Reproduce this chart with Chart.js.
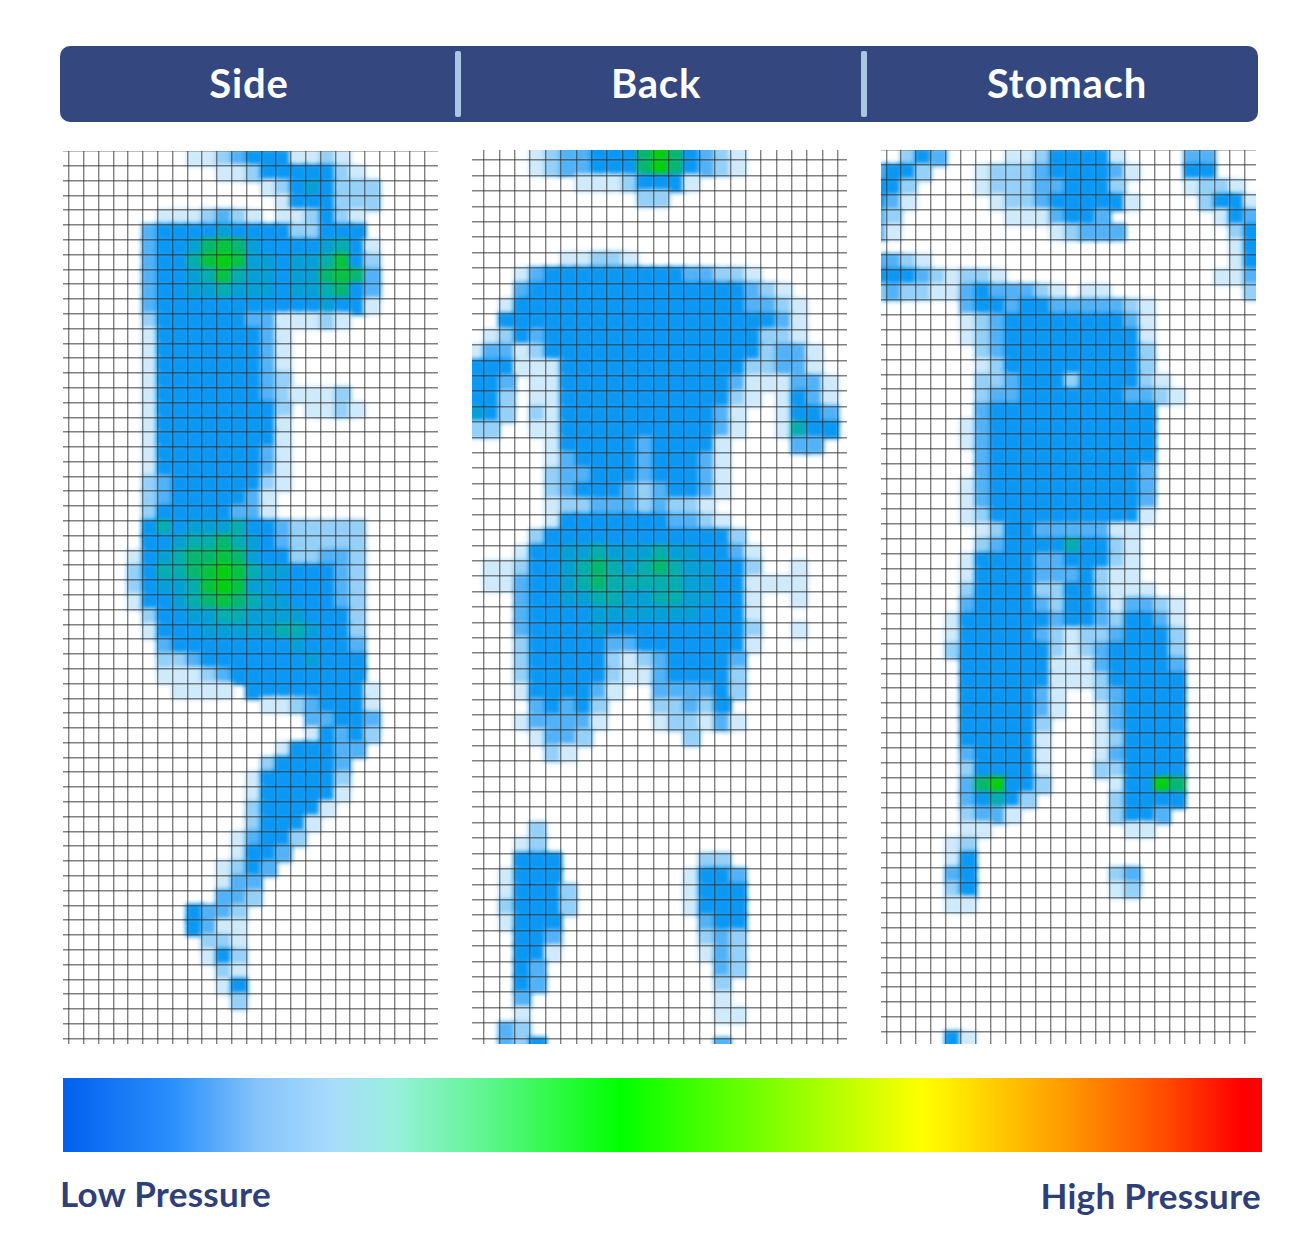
<!DOCTYPE html>
<html>
<head>
<meta charset="utf-8">
<title>Pressure map</title>
<script src="https://cdn.jsdelivr.net/npm/chart.js@4"></script>
<style>
  html, body { margin: 0; background: #fff; }
  body { position: relative; width: 1313px; height: 1240px; overflow: hidden; font-family: Lato, sans-serif; }
  canvas { position: absolute; }
  #bar { position: absolute; left: 60px; top: 46px; width: 1198px; height: 76px; background: #34477f; border-radius: 10px; }
  .sep { position: absolute; top: 51px; width: 6px; height: 66px; background: #a9c6e4; border-radius: 2px; }
  .head { position: absolute; top: 59px; width: 300px; text-align: center; color: #fff; font-size: 40px; font-weight: 700; line-height: 48px; letter-spacing: 0.8px; }
  .end { position: absolute; color: #2f3f77; font-size: 35px; font-weight: 700; line-height: 44px; letter-spacing: 0.3px; white-space: nowrap; }
</style>
</head>
<body>
<div id="bar"></div>
<div class="sep" style="left:455px"></div>
<div class="sep" style="left:861px"></div>
<div class="head" id="h0" style="left:99px"></div>
<div class="head" id="h1" style="left:506px"></div>
<div class="head" id="h2" style="left:917px"></div>
<div class="end" id="lowLabel" style="left:60px;top:1171px"></div>
<div class="end" id="highLabel" style="right:52px;top:1173px"></div>
<canvas id="side" width="375" height="893" style="left:63px;top:151px"></canvas>
<canvas id="back" width="375" height="894" style="left:472px;top:150px"></canvas>
<canvas id="stomach" width="375" height="894" style="left:881px;top:150px"></canvas>
<canvas id="ramp" width="1199" height="74" style="left:63px;top:1078px"></canvas>
<script>
const panelNames = ["Side", "Back", "Stomach"];
const lowText = "Low Pressure";
const highText = "High Pressure";

// pressure level per cell, one string per sensor row, "." is no reading.
// spaces only group the columns in fives
const sideRows = [
  "..... ....1 12344 41121",
  "..... ..... .1124 44442 1",
  "..... ..... ....1 24542 22",
  "..... ..... ..... 14442 22",
  "..... ..111 2321. 11242 1",
  "..... .3444 45444 42244 4",
  "..... .3445 78754 44456 41",
  "..... .3446 89855 45568 42",
  "..... .3445 68655 45578 73",
  "..... .3445 56555 45567 43",
  "..... .3444 44444 44454 41",
  "..... .2444 44433 11121",
  "..... .1444 44443 1",
  "..... .1444 44443 1",
  "..... .1444 44443 1",
  "..... .1444 44443 2",
  "..... .1444 44443 21112",
  "..... .1444 44444 2.112 1",
  "..... .1444 44444 1",
  "..... .1444 44444 1",
  "..... .1444 44443 1",
  "..... .1444 44443 1",
  "..... .2344 44442 1",
  "..... .2344 44431",
  "..... .2444 44331",
  "..... .4645 55644 32222 2",
  "..... .4456 67654 32222 2",
  "..... 14567 78754 42233 2",
  "..... 24667 89865 54443 2",
  "..... 24556 89855 44443 2",
  "..... 14456 78765 54443 2",
  "..... .2445 56655 55444 2",
  "..... .1444 55555 66544 2",
  "..... ..344 44444 45444 3",
  "..... ..223 44444 44544 4",
  "..... ..111 23444 44444 4",
  "..... ...11 11.44 44444 41",
  "..... ..... ....1 12344 41",
  "..... ..... ..... ..334 43",
  "..... ..... ..... ..143 42",
  "..... ..... ..... 14443 3",
  "..... ..... ....2 44443",
  "..... ..... ...14 44442",
  "..... ..... ...14 44441",
  "..... ..... ...24 4441",
  "..... ..... ...24 441",
  "..... ..... ..134 42",
  "..... ..... ..144 3",
  "..... ..... .1243",
  "..... ..... .133",
  "..... ..... .332",
  "..... ....4 332",
  "..... ....4 311",
  "..... ..... 221",
  "..... ..... 142",
  "..... ..... .21",
  "..... ..... .14",
  "..... ..... ..2"
];

const backRows = [
  "....1 23344 47974 321",
  "....1 23344 47974 321",
  "..... ..111 24441",
  "..... ..... .22",
  "",
  "",
  "",
  "..... .1122 1",
  "...13 44444 44443 3221",
  "...34 44444 44444 44432 1",
  "..144 44444 44444 44433 21",
  "..444 44444 44444 44444 31",
  ".1243 44444 44444 44442 21",
  "13312 44444 44444 44442 331",
  "44411 14444 44444 44422 331",
  "443.1 14444 44444 44311 1331",
  "442.1 14444 44444 4421. 1431",
  "542.2 14444 44444 431.. 1443",
  "22..1 14444 44444 431.. 1644",
  "..... 14444 43444 41... .33",
  "..... 13444 43444 31",
  "..... 23344 43444 31",
  "..... 23444 32344 31",
  "..... 12233 32322 1",
  "..... 14444 44433 21",
  "....2 44444 44444 442",
  "...14 45565 55655 4431",
  ".1124 45676 56765 5442. .1",
  ".1134 45676 66665 54411 11",
  "...34 45566 55665 5441. .1",
  "...34 44455 55555 4441",
  "...34 44454 44444 4442. .1",
  "...24 44443 34444 4441",
  "...24 44442 12344 443",
  "...24 44442 11344 442",
  "...14 44431 ..333 342",
  "....3 4342. ..223 24",
  "...13 3331. ..122 131",
  "....1 332.. ....2",
  "..... 21",
  "",
  "",
  "",
  "",
  "....2",
  "...12",
  "...44 4.... ..... 22",
  "..144 4.... ....1 443",
  "..144 42... ....1 444",
  "..244 42... ....1 444",
  "..144 4.... ..... 344",
  "...44 3.... ..... 232",
  "...44 1.... ..... 132",
  "...43 ..... ..... .32",
  "...43 ..... ..... .2",
  "...3. ..... ..... .1",
  "...1. ..... ..... .11",
  "..32",
  "..324 ..... ..... .3"
];

const stomachRows = [
  "..243 ....1 12444 41... .33",
  "3442. ..122 23444 431.. .44",
  "442.. ..122 23344 42... .1221",
  "431.. ...12 23444 441.. ..244 1",
  "32... ....1 11344 3.... ...14 3",
  "31... ..... ..123 33... ....2 4",
  "..... ..... ..... ..... ....1 4",
  "3321. ..... ..... ..... ....1 4",
  "44432 1221. ..... ..... ...11 3",
  "23221 13433 321.1 1.... ..... 2",
  "..... .3443 44333 3321",
  "..... .1234 44444 4431",
  "..... .1234 44444 4441",
  "..... ..234 44444 4442",
  "..... ..124 44444 4442",
  "..... ..223 44424 44421",
  "..... ..233 44444 44332 1",
  "..... ..344 44444 4444",
  "..... .1344 44444 4444",
  "..... .1344 44444 4444",
  "..... ..344 44444 4444",
  "..... ..344 44444 4443",
  "..... .1344 44444 4443",
  "..... .1344 44444 4443",
  "..... .1244 44444 4441",
  "..... ..124 43333 311",
  "..... ..234 44464 421",
  "..... .1444 43344 421",
  "..... .1444 43334 211",
  "..... .2444 42244 2111",
  "..... .3444 43244 31332 1",
  "..... 14444 44344 32443 1",
  "..... 14444 43212 23444 2",
  "..... 24444 44212 34444 2",
  "..... .4444 44111 34444 3",
  "..... .4444 44111 24444 4",
  "..... .4444 431.. 23444 4",
  "..... .4444 431.. 13444 4",
  "..... .4444 42... 13444 4",
  "..... .4444 41... 12444 4",
  "..... .3444 41... 13444 4",
  "..... .2444 41... 22444 4",
  "..... .3794 42... .1449 7",
  "..... .3464 2.... .2444 4",
  "..... .2331 ..... .2443",
  "..... .11.. ..... ..11",
  "..... 12",
  "..... 14",
  "..... 34... ..... .23",
  "..... 24... ..... .12",
  "..... 11",
  "",
  "",
  "",
  "",
  "",
  "",
  "",
  "",
  "..... 41"
];

const levelColors = ["#ffffff", "#cfeafb", "#94d0f8", "#52b2f8", "#0b98f5", "#06a0d8", "#05aeb0", "#05b870", "#06c440", "#04d010"];

// colour ramp under the maps
const rampPositions = [0, 0.092, 0.162, 0.225, 0.273, 0.356, 0.465, 0.717, 0.837, 0.92, 0.982, 1];
const rampColors = ["#0060ee", "#2a90fb", "#85c3fb", "#a9dcfb", "#9beee0", "#5cf58c", "#00ff00", "#ffff00", "#ff9900", "#ff4a00", "#ff0000", "#ff0000"];

function cellsFrom(rows, rowShift) {
  const cells = [];
  rows.forEach((row, r) => {
    const levels = row.replace(/ /g, "");
    for (let c = 0; c < levels.length; c++) {
      if (levels[c] === ".") continue;
      cells.push({ x: c - 0.5, y: r + rowShift + 0.5, level: parseInt(levels[c]) });
    }
  });
  return cells;
}

// blur the cells a little, the source map is a scaled-up low res image
const softCells = {
  id: "softCells",
  beforeDatasetsDraw(chart) { chart.ctx.filter = "blur(2px)"; },
  afterDatasetsDraw(chart) { chart.ctx.filter = "none"; }
};

function createMap(id, rows, rowShift, xRange, yRange) {
  const gridLines = { color: "rgba(45,45,45,0.6)", lineWidth: 1.4, z: 1, drawTicks: false };
  new Chart(document.getElementById(id), {
    type: "scatter",
    data: {
      datasets: [{
        data: cellsFrom(rows, rowShift),
        pointStyle: "rect",
        borderWidth: 0,
        pointBackgroundColor: (ctx) => levelColors[ctx.raw.level],
        // a rect point has side radius * sqrt(2)
        pointRadius: (ctx) => {
          const s = ctx.chart.scales.x;
          return (Math.abs(s.getPixelForValue(1) - s.getPixelForValue(0)) + 3.5) / Math.SQRT2;
        }
      }]
    },
    options: {
      responsive: false,
      animation: false,
      events: [],
      layout: { padding: 0 },
      plugins: { legend: { display: false }, tooltip: { enabled: false } },
      scales: {
        x: {
          type: "linear", min: xRange[0], max: xRange[1],
          ticks: { display: false, stepSize: 1, includeBounds: false },
          border: { display: false }, grid: gridLines
        },
        y: {
          type: "linear", reverse: true, min: yRange[0], max: yRange[1],
          ticks: { display: false, stepSize: 1, includeBounds: false },
          border: { display: false }, grid: gridLines
        }
      }
    },
    plugins: [softCells]
  });
}

function createRamp() {
  new Chart(document.getElementById("ramp"), {
    type: "bar",
    data: {
      labels: ["pressure"],
      datasets: [{
        data: [1],
        barPercentage: 1,
        categoryPercentage: 1,
        backgroundColor: (ctx) => {
          const area = ctx.chart.chartArea;
          if (!area) return rampColors[0];
          const g = ctx.chart.ctx.createLinearGradient(area.left, 0, area.right, 0);
          rampPositions.forEach((p, i) => g.addColorStop(p, rampColors[i]));
          return g;
        }
      }]
    },
    options: {
      indexAxis: "y",
      responsive: false,
      animation: false,
      events: [],
      layout: { padding: 0 },
      plugins: { legend: { display: false }, tooltip: { enabled: false } },
      scales: {
        x: { display: false, min: 0, max: 1 },
        y: { display: false }
      }
    }
  });
}

panelNames.forEach((name, i) => { document.getElementById("h" + i).textContent = name; });
document.getElementById("lowLabel").textContent = lowText;
document.getElementById("highLabel").textContent = highText;

createMap("side", sideRows, 0, [-0.39, 24.93], [0, 60.38]);
createMap("back", backRows, -1, [-0.78, 23.59], [-0.65, 57.37]);
createMap("stomach", stomachRows, 0, [-0.35, 24.77], [0, 59.8]);
createRamp();
</script>
</body>
</html>
